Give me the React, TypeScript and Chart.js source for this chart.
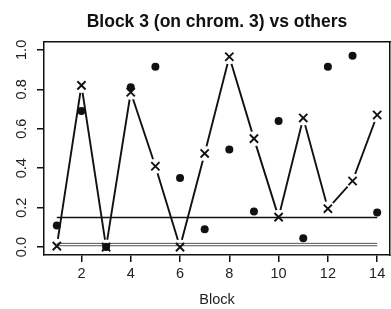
import React, { useEffect, useRef } from "react";
import { Chart, registerables } from "chart.js";

Chart.register(...registerables);

const blocks = [1, 2, 3, 4, 5, 6, 7, 8, 9, 10, 11, 12, 13, 14];
const dotValues = [0.11, 0.69, 0.0, 0.81, 0.915, 0.35, 0.09, 0.495, 0.18, 0.64, 0.045, 0.915, 0.97, 0.175];
const crossValues = [0.005, 0.82, 0.0, 0.785, 0.41, 0.0, 0.475, 0.965, 0.55, 0.152, 0.655, 0.195, 0.335, 0.67];
const refLevels = [0.15, 0.019, 0.007];
const xTicks = [2, 4, 6, 8, 10, 12, 14];
const yTicks = [0.0, 0.2, 0.4, 0.6, 0.8, 1.0];
const titleText = "Block 3 (on chrom. 3) vs others";
const xTitle = "Block";

const FONT = "'Liberation Sans', Arial, Helvetica, sans-serif";

export default function App() {
  const ref = useRef<HTMLCanvasElement | null>(null);

  useEffect(() => {
    if (!ref.current) return;
    const pts = (vals: number[]) => blocks.map((b, i) => ({ x: b, y: vals[i] }));
    const xMin = 0.48, xMax = 14.52, yMin = -0.04, yMax = 1.04;
    const refSets = refLevels.map((lv, i) => ({
      label: "ref" + i,
      data: [{ x: blocks[0], y: lv }, { x: blocks[blocks.length - 1], y: lv }],
      showLine: true,
      borderColor: i === 0 ? "#111" : "#555",
      borderWidth: i === 0 ? 1.6 : 1,
      pointRadius: 0,
      tension: 0,
      order: 8,
    }));
    const frameAxis = (position: string, min: number, max: number, horiz: boolean) => ({
      type: "linear",
      position,
      min,
      max,
      ticks: { display: false },
      grid: { display: false, drawTicks: false, tickLength: 0 },
      border: { display: true, color: "#111", width: 1.5 },
      afterFit: (s: any) => {
        if (horiz) s.height = 0;
        else s.width = 0;
      },
    });
    const chart = new Chart(ref.current, {
      type: "scatter",
      data: {
        datasets: [
          {
            label: "line",
            data: pts(crossValues),
            showLine: true,
            borderColor: "#111",
            borderWidth: 1.9,
            pointRadius: 0,
            tension: 0,
            order: 10,
          },
          {
            label: "mask",
            data: pts(crossValues),
            showLine: false,
            pointRadius: 7.5,
            pointBackgroundColor: "#ffffff",
            pointBorderWidth: 0,
            pointBorderColor: "#ffffff",
            clip: -1,
            order: 9,
          },
          ...refSets,
          {
            label: "dots",
            data: pts(dotValues),
            showLine: false,
            pointRadius: 4,
            pointBackgroundColor: "#111",
            pointBorderWidth: 0,
            order: 7,
          },
          {
            label: "crosses",
            data: pts(crossValues),
            showLine: false,
            pointStyle: "crossRot",
            pointRadius: 5.8,
            pointBorderWidth: 1.9,
            pointBorderColor: "#111",
            order: 6,
          },
        ],
      },
      options: {
        responsive: false,
        animation: false,
        devicePixelRatio: 1,
        events: [],
        layout: { autoPadding: false, padding: { left: 0, right: 1, top: 0, bottom: 0 } },
        plugins: {
          legend: { display: false },
          tooltip: { enabled: false },
          title: {
            display: true,
            text: titleText,
            fullSize: false,
            color: "#111",
            font: { family: FONT, size: 17.5, weight: "bold", lineHeight: 1.2 },
            padding: { top: 11.2, bottom: 9.8 },
          },
        },
        scales: {
          x: {
            type: "linear",
            position: "bottom",
            min: xMin,
            max: xMax,
            afterBuildTicks: (s: any) => {
              s.ticks = xTicks.map((v) => ({ value: v }));
            },
            afterFit: (s: any) => {
              s.height = 54;
            },
            ticks: {
              color: "#222",
              font: { family: FONT, size: 14.5 },
              padding: 3,
              maxRotation: 0,
              autoSkip: false,
              callback: (v: any) => String(v),
            },
            grid: {
              drawOnChartArea: false,
              drawTicks: true,
              tickLength: 7,
              tickColor: "#111",
              lineWidth: 1.5,
            },
            border: { display: true, color: "#111", width: 1.5 },
            title: {
              display: true,
              text: xTitle,
              color: "#222",
              font: { family: FONT, size: 14.5 },
              padding: { top: 0, bottom: 0 },
            },
          },
          y: {
            type: "linear",
            position: "left",
            min: yMin,
            max: yMax,
            afterBuildTicks: (s: any) => {
              s.ticks = yTicks.map((v) => ({ value: v }));
            },
            afterFit: (s: any) => {
              s.width = 44;
            },
            ticks: {
              color: "#222",
              font: { family: FONT, size: 14.5 },
              padding: 5,
              minRotation: 90,
              maxRotation: 90,
              crossAlign: "center",
              autoSkip: false,
              callback: (v: any) => Number(v).toFixed(1),
            },
            grid: {
              drawOnChartArea: false,
              drawTicks: true,
              tickLength: 7,
              tickColor: "#111",
              lineWidth: 1.5,
            },
            border: { display: true, color: "#111", width: 1.5 },
          },
          x2: frameAxis("top", xMin, xMax, true),
          y2: frameAxis("right", yMin, yMax, false),
        },
      } as any,
    });
    return () => chart.destroy();
  }, []);

  return (
    <div style={{ position: "fixed", left: 0, top: 0, width: 391, height: 309, background: "#fff" }}>
      <canvas ref={ref} width={391} height={309} style={{ display: "block" }} />
    </div>
  );
}
